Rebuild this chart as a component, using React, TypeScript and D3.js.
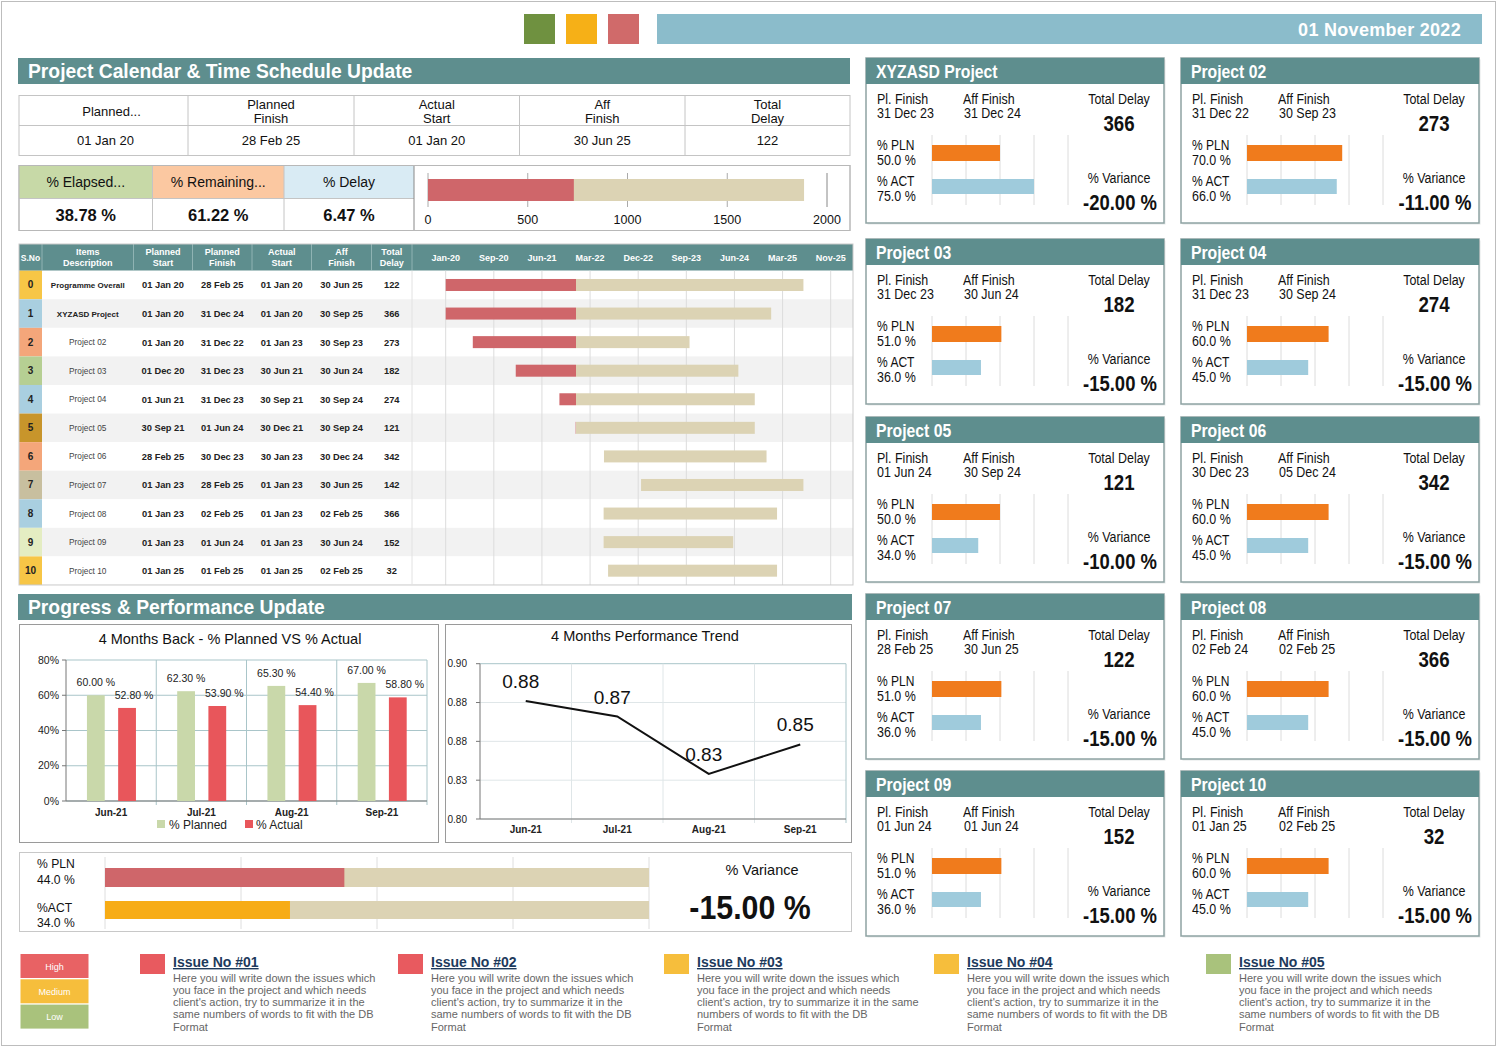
import React from 'react';
import * as d3 from 'd3';

const WIDTH = 1498;
const HEIGHT = 1050;

const TEAL = '#5e8e8e';
const BEIGE = '#dcd3b4';
const RED = '#cf666a';
const SANS = "'Liberation Sans', Arial, sans-serif";

// top banner
const reportDate = '01 November 2022';
const statusColors = ['#6f9140', '#f6b017', '#d06a6a'];

// programme summary
const summaryHeads = [['Planned...'], ['Planned', 'Finish'], ['Actual', 'Start'], ['Aff', 'Finish'], ['Total', 'Delay']];
const summaryValues = ['01 Jan 20', '28 Feb 25', '01 Jan 20', '30 Jun 25', '122'];
const ratioHeads = ['% Elapsed...', '% Remaining...', '% Delay'];
const ratioValues = [38.78, 61.22, 6.47];
const ratioFills = ['#c7d9a7', '#fbc8a1', '#d9ebf4'];
const elapsedDays = 731;
const plannedDays = 1885;
const dayTicks = [0, 500, 1000, 1500, 2000];

// schedule table
const tableHeads = [['S.No'], ['Items', 'Description'], ['Planned', 'Start'], ['Planned', 'Finish'], ['Actual', 'Start'], ['Aff', 'Finish'], ['Total', 'Delay']];
const rowNo = ['0', '1', '2', '3', '4', '5', '6', '7', '8', '9', '10'];
const rowColors = ['#f7c646', '#a9cfe0', '#f4a67a', '#b6cf93', '#a9cfe0', '#c8952b', '#f4a67a', '#c8bf9f', '#a9cfe0', '#e4edc2', '#f7c646'];
const items = ['Programme Overall', 'XYZASD Project', 'Project 02', 'Project 03', 'Project 04', 'Project 05', 'Project 06', 'Project 07', 'Project 08', 'Project 09', 'Project 10'];
const plannedStart = ['01 Jan 20', '01 Jan 20', '01 Jan 20', '01 Dec 20', '01 Jun 21', '30 Sep 21', '28 Feb 25', '01 Jan 23', '01 Jan 23', '01 Jan 23', '01 Jan 25'];
const plannedFinish = ['28 Feb 25', '31 Dec 24', '31 Dec 22', '31 Dec 23', '31 Dec 23', '01 Jun 24', '30 Dec 23', '28 Feb 25', '02 Feb 25', '01 Jun 24', '01 Feb 25'];
const actualStart = ['01 Jan 20', '01 Jan 20', '01 Jan 23', '30 Jun 21', '30 Sep 21', '30 Dec 21', '30 Jan 23', '01 Jan 23', '01 Jan 23', '01 Jan 23', '01 Jan 25'];
const affFinish = ['30 Jun 25', '30 Sep 25', '30 Sep 23', '30 Jun 24', '30 Sep 24', '30 Sep 24', '30 Dec 24', '30 Jun 25', '02 Feb 25', '30 Jun 24', '02 Feb 25'];
const totalDelay = ['122', '366', '273', '182', '274', '121', '342', '142', '366', '152', '32'];
const barFrom = ['2020-01-01', '2020-01-01', '2020-06-01', '2021-01-28', '2021-09-30', '2021-12-30', '2022-06-07', '2023-01-01', '2022-06-05', '2022-06-05', '2022-06-30'];
const barTo = ['2025-06-30', '2024-12-31', '2023-09-30', '2024-06-30', '2024-09-30', '2024-09-30', '2024-12-05', '2025-06-30', '2025-02-02', '2024-06-01', '2025-02-02'];
const statusDate = '2022-01-01';
const axisStart = '2020-01-01';
const axisStepDays = 270;
const axisSteps = 8;

// progress charts
const months = ['Jun-21', 'Jul-21', 'Aug-21', 'Sep-21'];
const plannedPct = [60.0, 62.3, 65.3, 67.0];
const actualPct = [52.8, 53.9, 54.4, 58.8];
const pctTicks = [0, 20, 40, 60, 80];
const trendValues = [0.876, 0.866, 0.829, 0.848];
const trendTicks = [0.8, 0.825, 0.85, 0.875, 0.9];
const trendTickLabels = ['0.80', '0.83', '0.88', '0.88', '0.90'];
const overallPln = 44.0;
const overallAct = 34.0;
const overallVariance = -15.0;

// project cards
const cardNames = ['XYZASD Project', 'Project 02', 'Project 03', 'Project 04', 'Project 05', 'Project 06', 'Project 07', 'Project 08', 'Project 09', 'Project 10'];
const cardPlFinish = ['31 Dec 23', '31 Dec 22', '31 Dec 23', '31 Dec 23', '01 Jun 24', '30 Dec 23', '28 Feb 25', '02 Feb 24', '01 Jun 24', '01 Jan 25'];
const cardAffFinish = ['31 Dec 24', '30 Sep 23', '30 Jun 24', '30 Sep 24', '30 Sep 24', '05 Dec 24', '30 Jun 25', '02 Feb 25', '01 Jun 24', '02 Feb 25'];
const cardDelay = [366, 273, 182, 274, 121, 342, 122, 366, 152, 32];
const cardPln = [50.0, 70.0, 51.0, 60.0, 50.0, 60.0, 51.0, 60.0, 51.0, 60.0];
const cardAct = [75.0, 66.0, 36.0, 45.0, 34.0, 45.0, 36.0, 45.0, 36.0, 45.0];
const cardVariance = [-20.0, -11.0, -15.0, -15.0, -10.0, -15.0, -15.0, -15.0, -15.0, -15.0];

// issues
const priorityLabels = ['High', 'Medium', 'Low'];
const priorityColors = ['#e86264', '#f6be3c', '#a9c27c'];
const issueTitles = ['Issue No #01', 'Issue No #02', 'Issue No #03', 'Issue No #04', 'Issue No #05'];
const issueColors = ['#e85a5f', '#e85a5f', '#f6be3c', '#f6be3c', '#a9c27c'];
const issueLines = [
  ['Here you will write down the issues which', 'you face in the project and which needs', "client's action, try to summarize it in the", 'same numbers of words to fit with the DB', 'Format'],
  ['Here you will write down the issues which', 'you face in the project and which needs', "client's action, try to summarize it in the", 'same numbers of words to fit with the DB', 'Format'],
  ['Here you will write down the issues which', 'you face in the project and which needs', "client's action, try to summarize it in the same", 'numbers of words to fit with the DB', 'Format'],
  ['Here you will write down the issues which', 'you face in the project and which needs', "client's action, try to summarize it in the", 'same numbers of words to fit with the DB', 'Format'],
  ['Here you will write down the issues which', 'you face in the project and which needs', "client's action, try to summarize it in the", 'same numbers of words to fit with the DB', 'Format'],
];

// plain hyphen for negatives, the way the sheet prints them
const locale = d3.formatLocale({ decimal: '.', thousands: ',', grouping: [3], currency: ['', ''], minus: '-' });
const f2 = locale.format('.2f');
const f1 = locale.format('.1f');
const pct2 = (v: number) => `${f2(v)} %`;
const pct1 = (v: number) => `${f1(v)} %`;

// condensed text: no narrow face is installed, so squeeze horizontally
const Narrow = ({ x, y, k = 0.86, children, ...rest }: any) => (
  <text transform={`translate(${x},${y}) scale(${k},1)`} {...rest}>
    {children}
  </text>
);

const SectionTitle = ({ x, y, w, label }: { x: number; y: number; w: number; label: string }) => (
  <g>
    <rect x={x} y={y} width={w} height={26} fill={TEAL} />
    <text x={x + 10} y={y + 19.5} fill="#fff" fontFamily={SANS} fontWeight="bold" fontSize={19.3}>
      {label}
    </text>
  </g>
);

const Banner = () => (
  <g>
    {statusColors.map((c, i) => (
      <rect key={c} x={524 + i * 42} y={14} width={31} height={30} fill={c} />
    ))}
    <rect x={657} y={14} width={825} height={30} fill="#8bbccb" />
    <text x={1461} y={36} textAnchor="end" fill="#fff" fontFamily={SANS} fontWeight="bold" fontSize={18} letterSpacing={0.3}>
      {reportDate}
    </text>
  </g>
);

const Summary = () => {
  const cols = [19, 188, 354, 519.5, 685, 850];
  const ratioCols = [19, 152.5, 284, 414];
  const days = d3.scaleLinear().domain([0, 2000]).range([428, 827]);
  return (
    <g fontFamily={SANS} fill="#111">
      <rect x={19} y={95.5} width={831} height={60} fill="#fff" stroke="#c4c4c4" />
      <line x1={19} x2={850} y1={125.5} y2={125.5} stroke="#c4c4c4" />
      {cols.slice(1, -1).map((c) => (
        <line key={c} x1={c} x2={c} y1={95.5} y2={155.5} stroke="#c4c4c4" />
      ))}
      {summaryHeads.map((h, i) => {
        const cx = (cols[i] + cols[i + 1]) / 2;
        return (
          <text key={i} x={cx} textAnchor="middle" fontSize={13}>
            {h.length === 1 ? (
              <tspan x={cx + 8} y={116}>{h[0]}</tspan>
            ) : (
              h.map((t, k) => (
                <tspan key={k} x={cx} y={108.5 + k * 14}>{t}</tspan>
              ))
            )}
          </text>
        );
      })}
      {summaryValues.map((v, i) => (
        <text key={i} x={(cols[i] + cols[i + 1]) / 2 + (i === 0 ? 2 : 0)} y={145} textAnchor="middle" fontSize={13}>
          {v}
        </text>
      ))}

      <rect x={19} y={165.5} width={831} height={65} fill="#fff" stroke="#b8b8b8" />
      {ratioHeads.map((h, i) => {
        const x0 = ratioCols[i];
        const x1 = ratioCols[i + 1];
        return (
          <g key={h}>
            <rect x={x0} y={165.5} width={x1 - x0} height={33} fill={ratioFills[i]} />
            <text x={(x0 + x1) / 2} y={187} textAnchor="middle" fontSize={14}>
              {h}
            </text>
            <text x={(x0 + x1) / 2} y={221} textAnchor="middle" fontSize={16.5} fontWeight="bold">
              {pct2(ratioValues[i])}
            </text>
          </g>
        );
      })}
      <line x1={19} x2={414} y1={198.5} y2={198.5} stroke="#c4c4c4" />
      {[152.5, 284].map((c) => (
        <line key={c} x1={c} x2={c} y1={165.5} y2={230.5} stroke="#c4c4c4" />
      ))}
      <line x1={414} x2={414} y1={165.5} y2={230.5} stroke="#888" />
      <rect x={19} y={165.5} width={831} height={65} fill="none" stroke="#b8b8b8" />
      {dayTicks.map((t) => (
        <g key={t}>
          <line x1={days(t)} x2={days(t)} y1={173} y2={207} stroke={t === 2000 ? '#888' : '#aaa'} />
          <text x={days(t)} y={224} textAnchor="middle" fontSize={12.5}>
            {t}
          </text>
        </g>
      ))}
      <rect x={days(0)} y={179} width={days(plannedDays) - days(0)} height={22} fill={BEIGE} />
      <rect x={days(0)} y={179} width={days(elapsedDays) - days(0)} height={22} fill={RED} />
    </g>
  );
};

const ScheduleTable = () => {
  const cols = [19, 42, 133.5, 192.5, 252, 311.5, 371.5, 412];
  const top = 244;
  const y0 = 270.7;
  const rh = 28.57;
  const right = 853;
  const parse = d3.utcParse('%Y-%m-%d');
  const origin = parse(axisStart) as Date;
  const ticks = d3.range(axisSteps + 1).map((i) => d3.utcDay.offset(origin, i * axisStepDays));
  const x = d3
    .scaleUtc()
    .domain([origin, ticks[ticks.length - 1]])
    .range([445.7, 830.7]);
  const fmt = d3.utcFormat('%b-%y');
  const status = parse(statusDate) as Date;
  const cells = [plannedStart, plannedFinish, actualStart, affFinish, totalDelay];
  const bottom = y0 + rh * rowNo.length;

  return (
    <g fontFamily={SANS}>
      <rect x={19} y={top} width={right - 19} height={y0 - top} fill={TEAL} />
      {cols.slice(1).map((c) => (
        <line key={c} x1={c} x2={c} y1={top} y2={y0} stroke="#8fb3b3" />
      ))}
      {tableHeads.map((h, i) => {
        const cx = (cols[i] + cols[i + 1]) / 2;
        return (
          <text key={i} textAnchor="middle" fill="#fff" fontWeight="bold" fontSize={i === 0 ? 8.5 : 9}>
            {h.length === 1 ? (
              <tspan x={cx} y={261}>{h[0]}</tspan>
            ) : (
              h.map((t, k) => (
                <tspan key={k} x={cx} y={255 + k * 10.5}>{t}</tspan>
              ))
            )}
          </text>
        );
      })}
      {ticks.map((t) => (
        <text key={+t} x={x(t)} y={260.5} textAnchor="middle" fill="#fff" fontWeight="bold" fontSize={9}>
          {fmt(t)}
        </text>
      ))}

      {rowNo.map((n, i) => {
        const ry = y0 + rh * i;
        const cy = ry + rh / 2;
        return (
          <g key={n}>
            <rect x={42} y={ry} width={right - 42} height={rh} fill={i % 2 ? '#f2f2f2' : '#fff'} />
            <rect x={19} y={ry} width={23} height={rh} fill={rowColors[i]} />
            <text x={30.5} y={cy + 3.5} textAnchor="middle" fontWeight="bold" fontSize={10} fill="#222">
              {n}
            </text>
            <text
              x={(cols[1] + cols[2]) / 2}
              y={cy + 3}
              textAnchor="middle"
              fontSize={i < 2 ? 8 : 8.3}
              fontWeight={i < 2 ? 'bold' : 'normal'}
              fill={i < 2 ? '#222' : '#444'}
            >
              {items[i]}
            </text>
            {cells.map((col, k) => (
              <text key={k} x={(cols[k + 2] + cols[k + 3]) / 2} y={cy + 3.5} textAnchor="middle" fontSize={9.3} fontWeight="bold" fill="#222">
                {col[i]}
              </text>
            ))}
          </g>
        );
      })}
      {ticks.map((t) => (
        <line key={+t} x1={x(t)} x2={x(t)} y1={y0} y2={bottom} stroke="#dcdcdc" />
      ))}
      {rowNo.map((n, i) => {
        const cy = y0 + rh * i + rh / 2;
        const from = parse(barFrom[i]) as Date;
        const to = parse(barTo[i]) as Date;
        const split = from < status ? status : from;
        return (
          <g key={n}>
            <rect x={x(split)} y={cy - 6} width={x(to) - x(split)} height={12} fill={BEIGE} />
            {from < status && <rect x={x(from)} y={cy - 6} width={x(status) - x(from)} height={12} fill={RED} />}
          </g>
        );
      })}
      <rect x={19} y={top} width={right - 19} height={bottom - top} fill="none" stroke="#c9c9c9" />
      <line x1={412} x2={412} y1={y0} y2={bottom} stroke="#e2e2e2" />
    </g>
  );
};

const PlannedActualChart = () => {
  const left = 66;
  const right = 427;
  const top = 660;
  const base = 801;
  const x = d3.scaleBand().domain(months).range([left, right]);
  const bw = x.bandwidth();
  const sub = d3.scaleBand().domain(['planned', 'actual']).range([bw * 0.232, bw * 0.775]).paddingInner(0.43);
  const y = d3.scaleLinear().domain([0, 80]).range([base, top]);
  const grid = '#a9c5c9';
  return (
    <g fontFamily={SANS}>
      <rect x={19.5} y={624.5} width={419} height={218} fill="#fff" stroke="#9a9a9a" />
      <text x={230} y={644} textAnchor="middle" fontSize={14.5} fill="#111">
        4 Months Back - % Planned VS % Actual
      </text>
      {pctTicks.map((t) => (
        <g key={t}>
          <line x1={left} x2={right} y1={y(t)} y2={y(t)} stroke={grid} />
          <line x1={left - 4} x2={left} y1={y(t)} y2={y(t)} stroke="#777" />
          <text x={left - 7} y={y(t) + 3.5} textAnchor="end" fontSize={10.5} fill="#222">
            {t}%
          </text>
        </g>
      ))}
      {months.map((m) => (
        <line key={m} x1={(x(m) as number) + bw} x2={(x(m) as number) + bw} y1={top} y2={base + 4} stroke={grid} />
      ))}
      <line x1={left} x2={left} y1={top} y2={base} stroke="#777" />
      <line x1={left} x2={right} y1={base} y2={base} stroke="#777" />
      {months.map((m, i) => {
        const bx = x(m) as number;
        const px = bx + (sub('planned') as number);
        const ax = bx + (sub('actual') as number);
        const sw = sub.bandwidth();
        return (
          <g key={m}>
            <rect x={px} y={y(plannedPct[i])} width={sw} height={base - y(plannedPct[i])} fill="#c9d8aa" />
            <rect x={ax} y={y(actualPct[i])} width={sw} height={base - y(actualPct[i])} fill="#e8565b" />
            <text x={px + sw / 2} y={y(plannedPct[i]) - 9} textAnchor="middle" fontSize={10.5} fill="#222">
              {pct2(plannedPct[i])}
            </text>
            <text x={ax + sw / 2 + 7} y={y(actualPct[i]) - 9} textAnchor="middle" fontSize={10.5} fill="#222">
              {pct2(actualPct[i])}
            </text>
            <text x={bx + bw / 2} y={816} textAnchor="middle" fontSize={10} fontWeight="bold" fill="#222">
              {m}
            </text>
          </g>
        );
      })}
      <rect x={157} y={820} width={8} height={8} fill="#c9d8aa" />
      <text x={169} y={828.5} fontSize={12} fill="#222">% Planned</text>
      <rect x={245} y={820} width={8} height={8} fill="#e8565b" />
      <text x={256} y={828.5} fontSize={12} fill="#222">% Actual</text>
    </g>
  );
};

const TrendChart = () => {
  const left = 480;
  const right = 846;
  const top = 663.7;
  const base = 819;
  const x = d3.scaleBand().domain(months).range([left, right]);
  const bw = x.bandwidth();
  const y = d3.scaleLinear().domain([0.8, 0.9]).range([base, top]);
  const line = d3
    .line<number>()
    .x((_, i) => (x(months[i]) as number) + bw / 2)
    .y((d) => y(d));
  return (
    <g fontFamily={SANS}>
      <rect x={445.5} y={624.5} width={406} height={218} fill="#fff" stroke="#9a9a9a" />
      <text x={645} y={641} textAnchor="middle" fontSize={14.5} fill="#111">
        4 Months Performance Trend
      </text>
      {trendTicks.map((t, i) => (
        <g key={t}>
          <line x1={left} x2={right} y1={y(t)} y2={y(t)} stroke={i === trendTicks.length - 1 ? '#a9c5c9' : '#dfe6e8'} />
          <line x1={left - 4} x2={left} y1={y(t)} y2={y(t)} stroke="#777" />
          <text x={left - 13} y={y(t) + 3.5} textAnchor="end" fontSize={10} fill="#222">
            {trendTickLabels[i]}
          </text>
        </g>
      ))}
      {months.map((m, i) => (
        <line
          key={m}
          x1={(x(m) as number) + bw}
          x2={(x(m) as number) + bw}
          y1={top}
          y2={base + 4}
          stroke={i === months.length - 1 ? '#a9c5c9' : '#dfe6e8'}
        />
      ))}
      <line x1={left} x2={left} y1={top} y2={base} stroke="#777" />
      <line x1={left} x2={right} y1={base} y2={base} stroke="#777" />
      <path d={line(trendValues) as string} fill="none" stroke="#111" strokeWidth={2} />
      {trendValues.map((v, i) => (
        <text key={i} x={(x(months[i]) as number) + bw / 2 - 5} y={y(v) - 13} textAnchor="middle" fontSize={19} fill="#111">
          {f2(v)}
        </text>
      ))}
      {months.map((m) => (
        <text key={m} x={(x(m) as number) + bw / 2} y={833} textAnchor="middle" fontSize={10} fontWeight="bold" fill="#222">
          {m}
        </text>
      ))}
    </g>
  );
};

const OverallProgress = () => {
  const x = d3.scaleLinear().domain([0, 100]).range([105, 649]);
  return (
    <g fontFamily={SANS} fill="#111">
      <rect x={19.5} y={852.5} width={832} height={79} fill="#fff" stroke="#c8c8c8" />
      {[0, 25, 50, 75, 100].map((t) => (
        <line key={t} x1={x(t)} x2={x(t)} y1={857} y2={929} stroke="#dedede" />
      ))}
      <rect x={x(0)} y={868} width={x(100) - x(0)} height={19} fill={BEIGE} />
      <rect x={x(0)} y={868} width={x(overallPln) - x(0)} height={19} fill={RED} />
      <rect x={x(0)} y={901} width={x(100) - x(0)} height={18} fill={BEIGE} />
      <rect x={x(0)} y={901} width={x(overallAct) - x(0)} height={18} fill="#f7ac16" />
      <Narrow x={37} y={868} k={0.9} fontSize={13.5}>% PLN</Narrow>
      <Narrow x={37} y={884} k={0.9} fontSize={13.5}>{pct1(overallPln)}</Narrow>
      <Narrow x={37} y={912} k={0.9} fontSize={13.5}>%ACT</Narrow>
      <Narrow x={37} y={927} k={0.9} fontSize={13.5}>{pct1(overallAct)}</Narrow>
      <text x={762} y={875} textAnchor="middle" fontSize={14.5}>% Variance</text>
      <Narrow x={750} y={919} k={0.92} textAnchor="middle" fontSize={33} fontWeight="bold">
        {pct2(overallVariance)}
      </Narrow>
    </g>
  );
};

const ProjectCard = ({ i, x, y }: { i: number; x: number; y: number }) => {
  const w = 298;
  const h = 165;
  const bar = d3.scaleLinear().domain([0, 100]).range([x + 66, x + 202]);
  return (
    <g fontFamily={SANS} fill="#111">
      <rect x={x + 1.5} y={y + 1.5} width={w} height={h} fill="#e4e8e8" />
      <rect x={x} y={y} width={w} height={h} fill="#fff" stroke="#8ea3a3" strokeWidth={1.5} />
      <rect x={x} y={y} width={w} height={26} fill={TEAL} />
      <Narrow x={x + 10} y={y + 20} k={0.9} fill="#fff" fontWeight="bold" fontSize={17.5}>
        {cardNames[i]}
      </Narrow>
      <Narrow x={x + 11} y={y + 46} fontSize={14.5}>Pl. Finish</Narrow>
      <Narrow x={x + 11} y={y + 60} fontSize={14.5}>{cardPlFinish[i]}</Narrow>
      <Narrow x={x + 97} y={y + 46} fontSize={14.5}>Aff Finish</Narrow>
      <Narrow x={x + 98} y={y + 60} fontSize={14.5}>{cardAffFinish[i]}</Narrow>
      <Narrow x={x + 253} y={y + 46} textAnchor="middle" fontSize={14.5}>Total Delay</Narrow>
      <Narrow x={x + 253} y={y + 73} k={0.83} textAnchor="middle" fontSize={22.5} fontWeight="bold">
        {cardDelay[i]}
      </Narrow>
      {[0, 25, 50, 75, 100].map((t) => (
        <line key={t} x1={bar(t)} x2={bar(t)} y1={y + 77} y2={y + 147} stroke="#dcdcdc" />
      ))}
      <rect x={bar(0)} y={y + 87} width={bar(cardPln[i]) - bar(0)} height={16} fill="#f07b1c" />
      <rect x={bar(0)} y={y + 121} width={bar(cardAct[i]) - bar(0)} height={15} fill="#9fcbdc" />
      <Narrow x={x + 11} y={y + 92} fontSize={14}>% PLN</Narrow>
      <Narrow x={x + 11} y={y + 106.5} fontSize={14.5}>{pct1(cardPln[i])}</Narrow>
      <Narrow x={x + 11} y={y + 128} fontSize={14}>% ACT</Narrow>
      <Narrow x={x + 11} y={y + 142.5} fontSize={14.5}>{pct1(cardAct[i])}</Narrow>
      <Narrow x={x + 253} y={y + 125} k={0.83} textAnchor="middle" fontSize={15}>% Variance</Narrow>
      <Narrow x={x + 254} y={y + 152} k={0.84} textAnchor="middle" fontSize={22} fontWeight="bold">
        {pct2(cardVariance[i])}
      </Narrow>
    </g>
  );
};

const Issues = () => {
  const squares = [140, 398, 664, 934, 1206];
  return (
    <g fontFamily={SANS}>
      {priorityLabels.map((p, i) => (
        <g key={p}>
          <rect x={20.5} y={954 + i * 25.3} width={68} height={24} fill={priorityColors[i]} />
          <text x={54.5} y={969.5 + i * 25.3} textAnchor="middle" fontSize={9} fill="#fff">
            {p}
          </text>
        </g>
      ))}
      {issueTitles.map((t, i) => (
        <g key={t}>
          <rect x={squares[i]} y={954} width={25} height={20} fill={issueColors[i]} />
          <text x={squares[i] + 33} y={967} fontSize={14} fontWeight="bold" fill="#1d3a5c" textDecoration="underline">
            {t}
          </text>
          {issueLines[i].map((l, k) => (
            <text key={k} x={squares[i] + 33} y={981.5 + k * 12.3} fontSize={11} fill="#666">
              {l}
            </text>
          ))}
        </g>
      ))}
    </g>
  );
};

const App = () => {
  const cardCols = [866, 1181];
  const cardRows = [58, 239, 417, 594, 771];
  return (
    <svg
      width={WIDTH}
      height={HEIGHT}
      viewBox={`0 0 ${WIDTH} ${HEIGHT}`}
      style={{ position: 'absolute', left: 0, top: 0, background: '#fff' }}
    >
      <rect x={1.5} y={1.5} width={WIDTH - 4} height={HEIGHT - 6} fill="#fff" stroke="#bdbdbd" />
      <Banner />
      <SectionTitle x={18} y={58} w={832} label="Project Calendar & Time Schedule Update" />
      <Summary />
      <ScheduleTable />
      <SectionTitle x={18} y={594} w={834} label="Progress & Performance Update" />
      <PlannedActualChart />
      <TrendChart />
      <OverallProgress />
      {cardNames.map((n, i) => (
        <ProjectCard key={n} i={i} x={cardCols[i % 2]} y={cardRows[Math.floor(i / 2)]} />
      ))}
      <Issues />
    </svg>
  );
};

export default App;
